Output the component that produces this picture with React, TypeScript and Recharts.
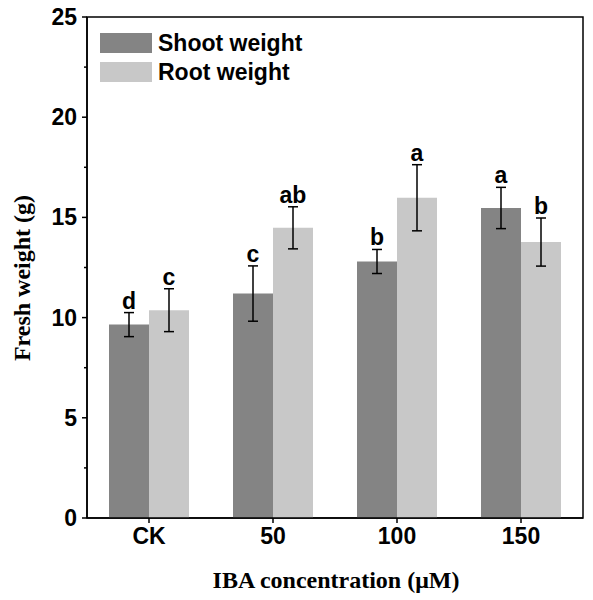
import { Bar, BarChart, ErrorBar, LabelList, Legend, ReferenceArea, XAxis, YAxis, Label } from "recharts";

const categories = ["CK", "50", "100", "150"];
const shootWeight = [9.65, 11.2, 12.8, 15.47];
const shootErr = [0.6, 1.38, 0.6, 1.03];
const shootLetters = ["d", "c", "b", "a"];
const rootWeight = [10.37, 14.48, 15.98, 13.77];
const rootErr = [1.07, 1.05, 1.65, 1.2];
const rootLetters = ["c", "ab", "a", "b"];
const yTicks = [0, 2.5, 5, 7.5, 10, 12.5, 15, 17.5, 20, 22.5, 25];
const seriesNames = ["Shoot weight", "Root weight"];

const data = categories.map((c, i) => ({
  name: c,
  shoot: shootWeight[i],
  shootErr: shootErr[i],
  root: rootWeight[i],
  rootErr: rootErr[i],
}));

const SANS = "'Liberation Sans', Arial, sans-serif";
const SERIF = "'Liberation Serif', 'Times New Roman', serif";
const SHOOT = "#848484";
const ROOT = "#c8c8c8";

function YTick(props: any) {
  const { x, y, payload } = props;
  const major = payload.value % 5 === 0;
  const len = major ? 5 : 3;
  return (
    <g>
      <line x1={x + 9 - len} x2={x + 9} y1={y} y2={y} stroke="#000" strokeWidth={1.5} />
      {major && (
        <text x={x - 1} y={y} textAnchor="end" dominantBaseline="central"
          style={{ fontFamily: SANS, fontWeight: 700, fontSize: 23, fill: "#000" }}>
          {payload.value}
        </text>
      )}
    </g>
  );
}

function letterLabel(errs: number[], letters: string[]) {
  return (p: any) => {
    const { x, y, width, height, value, index } = p;
    const errTop = y - (errs[index] * height) / value;
    return (
      <text x={x + width / 2} y={errTop - 4} textAnchor="middle"
        style={{ fontFamily: SANS, fontWeight: 700, fontSize: 23, fill: "#000" }}>
        {letters[index]}
      </text>
    );
  };
}

function LegendBox({ payload }: any) {
  const items = [...(payload || [])].sort(
    (a: any, b: any) => seriesNames.indexOf(a.value) - seriesNames.indexOf(b.value)
  );
  return (
    <div>
      {items.map((item: any) => (
        <div key={item.value} style={{ display: "flex", alignItems: "center", marginBottom: 9, height: 20 }}>
          <div style={{ width: 52, height: 20, background: item.color }} />
          <span style={{ marginLeft: 6, fontFamily: SANS, fontWeight: 700, fontSize: 23, lineHeight: "20px", color: "#000" }}>
            {item.value}
          </span>
        </div>
      ))}
    </div>
  );
}

export default function App() {
  return (
    <div style={{ position: "absolute", left: 0, top: 0, width: 593, height: 600, background: "#fff" }}>
      <BarChart width={593} height={600} data={data} margin={{ top: 17, right: 10, left: 0, bottom: 0 }}
        barGap={0} barSize={40}>
        <XAxis dataKey="name" height={82} stroke="#000" strokeWidth={1.5} tickSize={5} tickMargin={5}
          tick={{ fontFamily: SANS, fontWeight: 700, fontSize: 23, fill: "#000" }}
          tickLine={{ stroke: "#000", strokeWidth: 1.5 }}>
          <Label content={() => (
            <text x={336} y={588} textAnchor="middle"
              style={{ fontFamily: SERIF, fontWeight: 700, fontSize: 24, fill: "#000" }}>
              IBA concentration (μM)
            </text>
          )} />
        </XAxis>
        <YAxis width={87} domain={[0, 25]} ticks={yTicks} interval={0} stroke="#000" strokeWidth={1.5}
          tickSize={5} tickMargin={4} tickLine={false} tick={<YTick />}>
          <Label content={() => (
            <text x={30} y={278} textAnchor="middle" transform="rotate(-90 30 278)"
              style={{ fontFamily: SERIF, fontWeight: 700, fontSize: 24, fill: "#000" }}>
              Fresh weight (g)
            </text>
          )} />
        </YAxis>
        <ReferenceArea y1={0} y2={25} fill="none" fillOpacity={0} stroke="#000" strokeWidth={1.5} />
        <Legend layout="vertical" align="center" verticalAlign="middle" content={<LegendBox />}
          wrapperStyle={{ left: 100, top: 33, width: 260 }} />
        <Bar dataKey="shoot" name={seriesNames[0]} fill={SHOOT} isAnimationActive={false}>
          <ErrorBar dataKey="shootErr" width={5} stroke="#000" strokeWidth={1.5} />
          <LabelList dataKey="shoot" content={letterLabel(shootErr, shootLetters)} />
        </Bar>
        <Bar dataKey="root" name={seriesNames[1]} fill={ROOT} isAnimationActive={false}>
          <ErrorBar dataKey="rootErr" width={5} stroke="#000" strokeWidth={1.5} />
          <LabelList dataKey="root" content={letterLabel(rootErr, rootLetters)} />
        </Bar>
      </BarChart>
    </div>
  );
}
